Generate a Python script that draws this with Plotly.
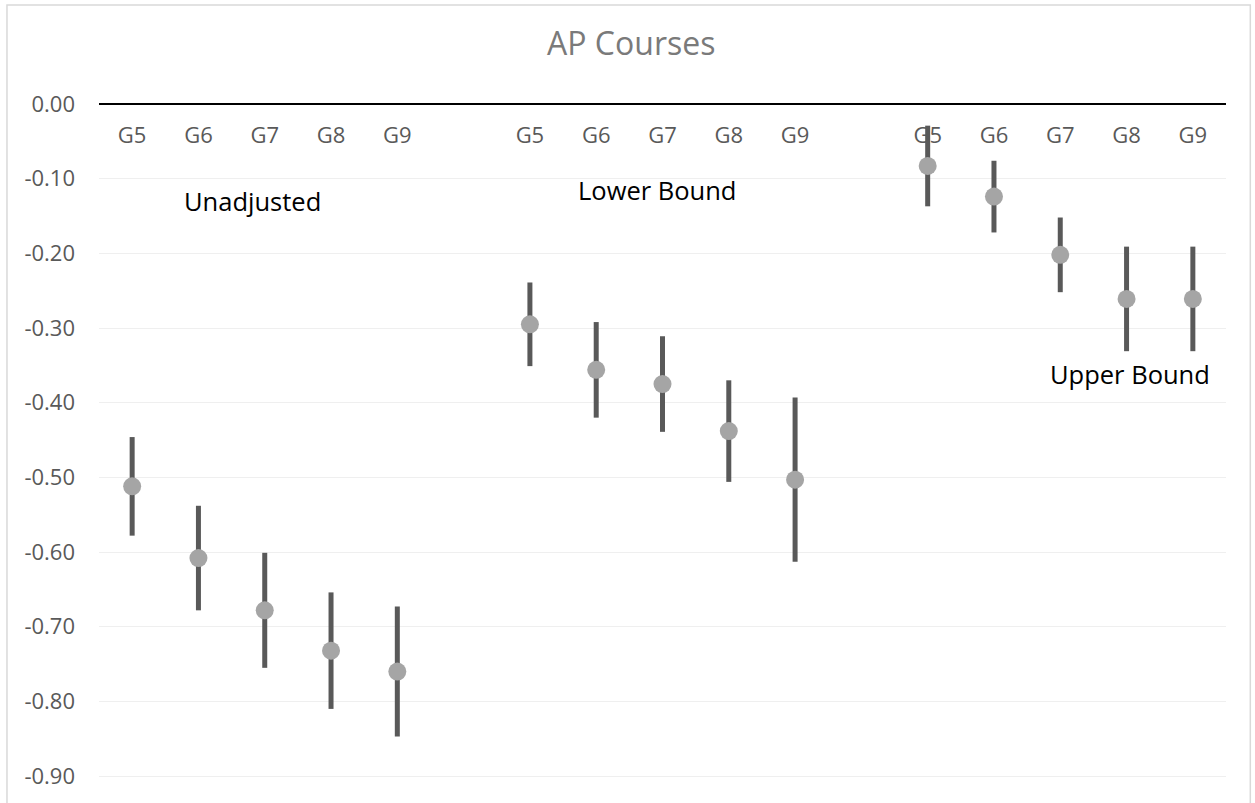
import plotly.graph_objects as go

grades = ["G5", "G6", "G7", "G8", "G9"]
group_names = ["Unadjusted", "Lower Bound", "Upper Bound"]

unadj_mean = [-0.512, -0.608, -0.678, -0.732, -0.760]
unadj_err = [0.066, 0.070, 0.077, 0.078, 0.087]
lower_mean = [-0.295, -0.356, -0.375, -0.438, -0.503]
lower_err = [0.056, 0.064, 0.064, 0.068, 0.110]
upper_mean = [-0.083, -0.124, -0.202, -0.261, -0.261]
upper_err = [0.054, 0.048, 0.050, 0.070, 0.070]

y_ticks = [0.0, -0.1, -0.2, -0.3, -0.4, -0.5, -0.6, -0.7, -0.8, -0.9]

FONT = "Open Sans"
series = [(unadj_mean, unadj_err), (lower_mean, lower_err), (upper_mean, upper_err)]
GROUP_STEP = len(grades) + 1

fig = go.Figure()
tickvals, ticktext = [], []
for g, (means, errs) in enumerate(series):
    xs = [g * GROUP_STEP + i for i in range(len(grades))]
    tickvals += xs
    ticktext += grades
    fig.add_trace(go.Scatter(
        x=xs, y=means, mode="markers", name=group_names[g],
        marker=dict(size=18, color="#A5A5A5", line=dict(width=0)),
        error_y=dict(type="data", array=errs, visible=True,
                     color="#595959", thickness=5, width=0),
        showlegend=False, cliponaxis=False,
    ))

n_slots = GROUP_STEP * len(series) - 1

fig.update_layout(
    width=1255, height=803,
    margin=dict(l=99, r=29, t=104, b=0),
    paper_bgcolor="white", plot_bgcolor="white",
    font=dict(family=FONT, color="#595959", size=22),
    title=dict(text="AP Courses", x=0.503, xanchor="center", y=1 - 44 / 803,
               yanchor="middle", yref="container",
               font=dict(family=FONT, size=32, color="#7a7a7a")),
)

fig.update_xaxes(
    range=[-0.5, n_slots - 0.5], tickvals=tickvals, ticktext=ticktext,
    anchor="free", position=1, side="bottom",
    showline=True, linecolor="black", linewidth=2,
    showgrid=False, zeroline=False, ticks="",
    ticklabelstandoff=12,
    tickfont=dict(family=FONT, size=22, color="#595959"),
)
fig.update_yaxes(
    range=[-0.936, 0], tickvals=y_ticks, ticktext=[f"{v:.2f}" for v in y_ticks],
    showgrid=True, gridcolor="#EFEFEF", gridwidth=1,
    zeroline=False, showline=False, ticks="",
    ticklabelstandoff=23,
    tickfont=dict(family=FONT, size=22, color="#595959"),
)

label_pos = [(1.81, -0.130), (7.92, -0.115), (15.05, -0.361)]
for name, (lx, ly) in zip(group_names, label_pos):
    fig.add_annotation(x=lx, y=ly, xref="x", yref="y", text=name, showarrow=False,
                       font=dict(family=FONT, size=25.5, color="black"),
                       xanchor="center", yanchor="middle")

# chart frame
fig.add_shape(type="rect", xref="paper", yref="paper",
              x0=(7 - 99) / 1126.7, x1=(1250 - 99) / 1126.7,
              y0=-0.1, y1=1 + (104 - 5) / 699,
              line=dict(color="#D9D9D9", width=1.5), fillcolor="rgba(0,0,0,0)",
              layer="below")

fig.write_html("out.html", config={"displayModeBar": False},
               post_script="document.body.style.margin='0';")
